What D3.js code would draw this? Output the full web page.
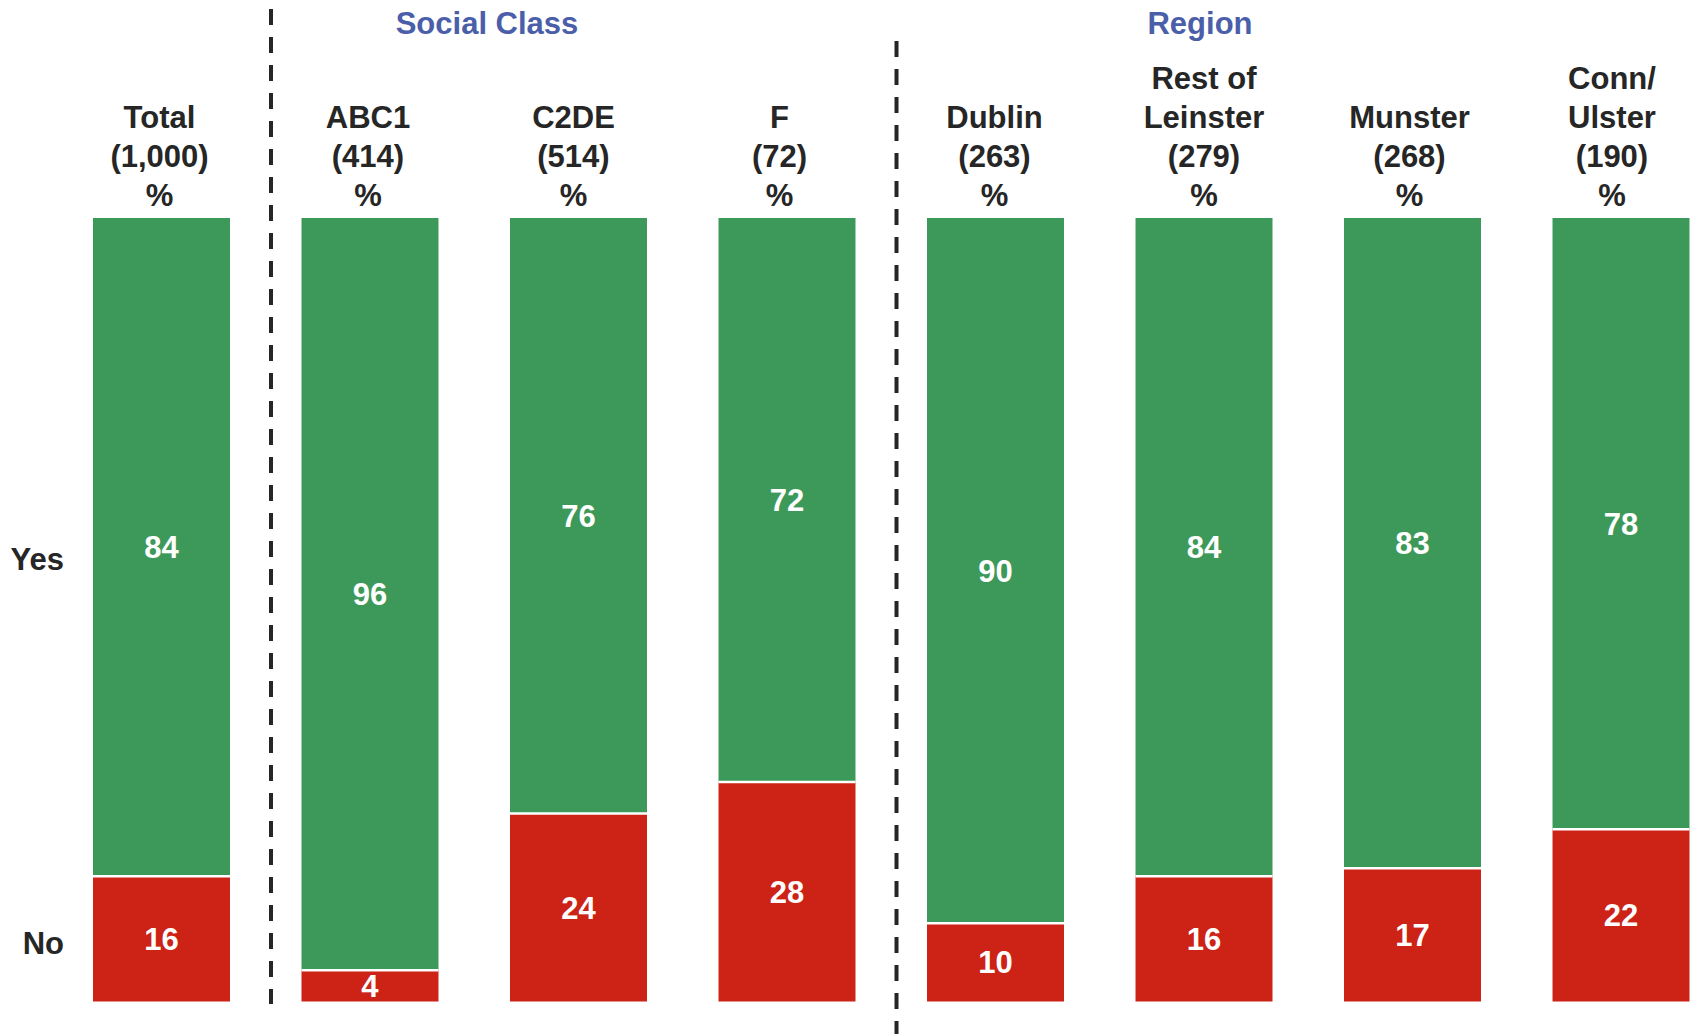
<!DOCTYPE html>
<html>
<head>
<meta charset="utf-8">
<script src="https://cdn.jsdelivr.net/npm/d3@7"></script>
<style>
  body { margin: 0; background: #fff; }
  svg text { font-family: "Liberation Sans", Arial, sans-serif; font-weight: bold; }
</style>
</head>
<body>
<div id="chart"></div>
<script>
// data
var categories = ['Total', 'ABC1', 'C2DE', 'F', 'Dublin', 'Rest of Leinster', 'Munster', 'Conn/Ulster'],
	headLines = [['Total'], ['ABC1'], ['C2DE'], ['F'], ['Dublin'], ['Rest of', 'Leinster'], ['Munster'], ['Conn/', 'Ulster']],
	bases = ['1,000', '414', '514', '72', '263', '279', '268', '190'],
	yesValues = [84, 96, 76, 72, 90, 84, 83, 78],
	noValues = [16, 4, 24, 28, 10, 16, 17, 22],
	groupNames = ['Social Class', 'Region'],
	groupFirst = ['ABC1', 'Dublin'];

// layout
var width = 1694, height = 1034,
	green = '#3d9959', red = '#cc2316', dark = '#262626', blue = '#4a5ea9',
	fontSize = 31, lineStep = 39, headBase = 206,
	headShift = [-2, -2, -5, -7.5, -1, 0, -3, -9],   // header text boxes sit a bit left of bar centres
	titleX = [487, 1200],
	dividerTop = [9, 41], dividerBottom = [1004, 1034];

var rows = categories.map(function (c, i) {
	return { cat: c, yes: yesValues[i], no: noValues[i] };
});

var svg = d3.select('#chart').append('svg')
	.attr('width', width)
	.attr('height', height);

var x = d3.scaleBand()
	.domain(categories)
	.range([93, 1689.5])
	.paddingInner(0.343)
	.paddingOuter(0);

var y = d3.scaleLinear()
	.domain([0, 100])
	.range([1001.5, 218]);

var stack = d3.stack().keys(['no', 'yes'])(rows);
var colors = { no: red, yes: green };

// bars
var layer = svg.selectAll('.layer')
	.data(stack)
	.enter().append('g')
	.attr('class', 'layer')
	.attr('fill', function (d) { return colors[d.key]; });

layer.selectAll('rect')
	.data(function (d) { return d; })
	.enter().append('rect')
	.attr('x', function (d) { return x(d.data.cat); })
	.attr('y', function (d) { return y(d[1]); })
	.attr('width', x.bandwidth())
	.attr('height', function (d) { return y(d[0]) - y(d[1]); });

// white gap between segments
svg.selectAll('.sep')
	.data(rows)
	.enter().append('line')
	.attr('x1', function (d) { return x(d.cat); })
	.attr('x2', function (d) { return x(d.cat) + x.bandwidth(); })
	.attr('y1', function (d) { return y(d.no); })
	.attr('y2', function (d) { return y(d.no); })
	.attr('stroke', '#fff')
	.attr('stroke-width', 2.5);

// value labels
layer.selectAll('text')
	.data(function (d) { return d; })
	.enter().append('text')
	.attr('x', function (d) { return x(d.data.cat) + x.bandwidth() / 2; })
	.attr('y', function (d) { return (y(d[0]) + y(d[1])) / 2; })
	.attr('dy', '0.36em')
	.attr('text-anchor', 'middle')
	.attr('fill', '#fff')
	.style('font-size', fontSize + 'px')
	.text(function (d) { return d[1] - d[0]; });

// column headers
var head = svg.selectAll('.head')
	.data(categories)
	.enter().append('text')
	.attr('class', 'head')
	.attr('text-anchor', 'middle')
	.attr('fill', dark)
	.style('font-size', fontSize + 'px');

head.each(function (c, i) {
	var lines = headLines[i].concat(['(' + bases[i] + ')', '%']);
	var cx = x(c) + x.bandwidth() / 2 + headShift[i];
	d3.select(this).selectAll('tspan')
		.data(lines)
		.enter().append('tspan')
		.attr('x', cx)
		.attr('y', function (d, j) { return headBase - (lines.length - 1 - j) * lineStep; })
		.text(function (d) { return d; });
});

// group dividers and titles
svg.selectAll('.divider')
	.data(groupFirst)
	.enter().append('line')
	.attr('x1', function (d) { return x(d) - 30.5; })
	.attr('x2', function (d) { return x(d) - 30.5; })
	.attr('y1', function (d, i) { return dividerTop[i]; })
	.attr('y2', function (d, i) { return dividerBottom[i]; })
	.attr('stroke', dark)
	.attr('stroke-width', 4)
	.attr('stroke-dasharray', '16,12');

svg.selectAll('.gtitle')
	.data(groupNames)
	.enter().append('text')
	.attr('x', function (d, i) { return titleX[i]; })
	.attr('y', 33.5)
	.attr('text-anchor', 'middle')
	.attr('fill', blue)
	.style('font-size', fontSize + 'px')
	.text(function (d) { return d; });

// row labels
svg.selectAll('.rowLabel')
	.data([{ t: 'Yes', v: 56.5 }, { t: 'No', v: 7.5 }])
	.enter().append('text')
	.attr('x', 64)
	.attr('y', function (d) { return y(d.v); })
	.attr('dy', '0.36em')
	.attr('text-anchor', 'end')
	.attr('fill', dark)
	.style('font-size', fontSize + 'px')
	.text(function (d) { return d.t; });
</script>
</body>
</html>
